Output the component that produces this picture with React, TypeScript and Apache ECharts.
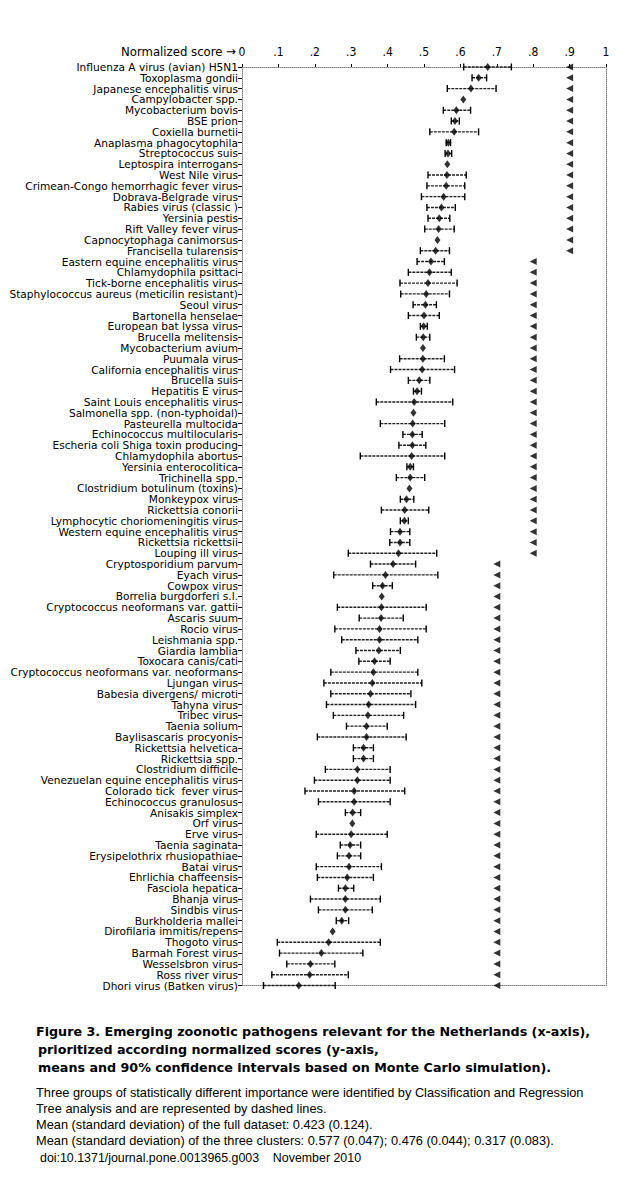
import React, { useEffect, useRef } from "react";
import * as echarts from "echarts";

const categories: string[] = [
  "Influenza A virus (avian) H5N1",
  "Toxoplasma gondii",
  "Japanese encephalitis virus",
  "Campylobacter spp.",
  "Mycobacterium bovis",
  "BSE prion",
  "Coxiella burnetii",
  "Anaplasma phagocytophila",
  "Streptococcus suis",
  "Leptospira interrogans",
  "West Nile virus",
  "Crimean-Congo hemorrhagic fever virus",
  "Dobrava-Belgrade virus",
  "Rabies virus (classic )",
  "Yersinia pestis",
  "Rift Valley fever virus",
  "Capnocytophaga canimorsus",
  "Francisella tularensis",
  "Eastern equine encephalitis virus",
  "Chlamydophila psittaci",
  "Tick-borne encephalitis virus",
  "Staphylococcus aureus (meticilin resistant)",
  "Seoul virus",
  "Bartonella henselae",
  "European bat lyssa virus",
  "Brucella melitensis",
  "Mycobacterium avium",
  "Puumala virus",
  "California encephalitis virus",
  "Brucella suis",
  "Hepatitis E virus",
  "Saint Louis encephalitis virus",
  "Salmonella spp. (non-typhoidal)",
  "Pasteurella multocida",
  "Echinococcus multilocularis",
  "Escheria coli Shiga toxin producing",
  "Chlamydophila abortus",
  "Yersinia enterocolitica",
  "Trichinella spp.",
  "Clostridium botulinum (toxins)",
  "Monkeypox virus",
  "Rickettsia conorii",
  "Lymphocytic choriomeningitis virus",
  "Western equine encephalitis virus",
  "Rickettsia rickettsii",
  "Louping ill virus",
  "Cryptosporidium parvum",
  "Eyach virus",
  "Cowpox virus",
  "Borrelia burgdorferi s.l.",
  "Cryptococcus neoformans var. gattii",
  "Ascaris suum",
  "Rocio virus",
  "Leishmania spp.",
  "Giardia lamblia",
  "Toxocara canis/cati",
  "Cryptococcus neoformans var. neoformans",
  "Ljungan virus",
  "Babesia divergens/ microti",
  "Tahyna virus",
  "Tribec virus",
  "Taenia solium",
  "Baylisascaris procyonis",
  "Rickettsia helvetica",
  "Rickettsia spp.",
  "Clostridium difficile",
  "Venezuelan equine encephalitis virus",
  "Colorado tick  fever virus",
  "Echinococcus granulosus",
  "Anisakis simplex",
  "Orf virus",
  "Erve virus",
  "Taenia saginata",
  "Erysipelothrix rhusiopathiae",
  "Batai virus",
  "Ehrlichia chaffeensis",
  "Fasciola hepatica",
  "Bhanja virus",
  "Sindbis virus",
  "Burkholderia mallei",
  "Dirofilaria immitis/repens",
  "Thogoto virus",
  "Barmah Forest virus",
  "Wesselsbron virus",
  "Ross river virus",
  "Dhori virus (Batken virus)",
];

const means: number[] = [
  0.675, 0.65, 0.629, 0.608, 0.589, 0.585, 0.583, 0.567, 0.566, 0.564,
  0.563, 0.561, 0.554, 0.548, 0.542, 0.54, 0.537, 0.532, 0.519, 0.515,
  0.511, 0.506, 0.504, 0.5, 0.499, 0.498, 0.497, 0.497, 0.495, 0.487,
  0.481, 0.473, 0.471, 0.469, 0.468, 0.468, 0.466, 0.462, 0.462, 0.46,
  0.452, 0.447, 0.446, 0.434, 0.434, 0.43, 0.415, 0.394, 0.386, 0.384,
  0.383, 0.382, 0.378, 0.378, 0.376, 0.364, 0.361, 0.358, 0.353, 0.348,
  0.346, 0.342, 0.342, 0.334, 0.334, 0.317, 0.317, 0.308, 0.308, 0.304,
  0.303, 0.3, 0.297, 0.294, 0.294, 0.289, 0.284, 0.284, 0.284, 0.274,
  0.249, 0.238, 0.218, 0.188, 0.186, 0.156,
];

const lower: number[] = [
  0.609, 0.632, 0.564, 0.608, 0.553, 0.575, 0.516, 0.561, 0.558, 0.564,
  0.511, 0.508, 0.493, 0.508, 0.511, 0.502, 0.537, 0.49, 0.481, 0.457,
  0.434, 0.436, 0.47, 0.457, 0.49, 0.479, 0.497, 0.433, 0.408, 0.457,
  0.471, 0.369, 0.471, 0.38, 0.442, 0.431, 0.325, 0.453, 0.424, 0.46,
  0.435, 0.383, 0.435, 0.408, 0.406, 0.292, 0.353, 0.252, 0.359, 0.384,
  0.262, 0.322, 0.255, 0.274, 0.313, 0.321, 0.244, 0.225, 0.244, 0.232,
  0.251, 0.287, 0.207, 0.306, 0.306, 0.229, 0.199, 0.173, 0.21, 0.284,
  0.303, 0.204, 0.27, 0.262, 0.204, 0.207, 0.265, 0.188, 0.21, 0.259,
  0.249, 0.097, 0.103, 0.123, 0.082, 0.059,
];

const upper: number[] = [
  0.74, 0.672, 0.698, 0.608, 0.628, 0.597, 0.65, 0.573, 0.576, 0.564,
  0.616, 0.612, 0.612, 0.586, 0.571, 0.583, 0.537, 0.57, 0.556, 0.575,
  0.591, 0.57, 0.534, 0.542, 0.509, 0.516, 0.497, 0.556, 0.584, 0.516,
  0.493, 0.579, 0.471, 0.557, 0.495, 0.505, 0.557, 0.471, 0.502, 0.46,
  0.472, 0.513, 0.457, 0.461, 0.461, 0.535, 0.477, 0.538, 0.413, 0.384,
  0.506, 0.443, 0.506, 0.483, 0.435, 0.407, 0.483, 0.494, 0.464, 0.477,
  0.444, 0.399, 0.451, 0.361, 0.361, 0.407, 0.407, 0.447, 0.407, 0.326,
  0.303, 0.399, 0.326, 0.326, 0.383, 0.361, 0.307, 0.38, 0.358, 0.293,
  0.249, 0.38, 0.332, 0.255, 0.292, 0.256,
];

// cluster membership per row (1 = highest importance group): 18 / 28 / 40 rows
const cluster: number[] = [
  1, 1, 1, 1, 1, 1, 1, 1, 1, 1,
  1, 1, 1, 1, 1, 1, 1, 1, 2, 2,
  2, 2, 2, 2, 2, 2, 2, 2, 2, 2,
  2, 2, 2, 2, 2, 2, 2, 2, 2, 2,
  2, 2, 2, 2, 2, 2, 3, 3, 3, 3,
  3, 3, 3, 3, 3, 3, 3, 3, 3, 3,
  3, 3, 3, 3, 3, 3, 3, 3, 3, 3,
  3, 3, 3, 3, 3, 3, 3, 3, 3, 3,
  3, 3, 3, 3, 3, 3,
];
const clusterMarkerX: number[] = [0.9, 0.8, 0.7];

const xTickLabels: Record<string, string> = {
  "0": "0", "0.1": ".1", "0.2": ".2", "0.3": ".3", "0.4": ".4", "0.5": ".5",
  "0.6": ".6", "0.7": ".7", "0.8": ".8", "0.9": ".9", "1": "1",
};

const captionBold: string[] = [
  "Figure 3. Emerging zoonotic pathogens relevant for the Netherlands (x-axis),",
  "prioritized according normalized scores (y-axis,",
  "means and 90% confidence intervals based on Monte Carlo simulation).",
];
const captionText: string[] = [
  "Three groups of statistically different importance were identified by Classification and Regression",
  "Tree analysis and are represented by dashed lines.",
  "Mean (standard deviation) of the full dataset: 0.423 (0.124).",
  "Mean (standard deviation) of the three clusters: 0.577 (0.047); 0.476 (0.044); 0.317 (0.083).",
];
const doiText = "doi:10.1371/journal.pone.0013965.g003    November 2010";

const LABEL_FONT = "'DejaVu Sans', sans-serif";
const NARROW = "'DejaVu Sans Condensed', 'DejaVu Sans', sans-serif";

export default function App() {
  const ref = useRef<HTMLDivElement>(null);
  useEffect(() => {
    if (!ref.current) return;
    const chart = echarts.init(ref.current, null, { renderer: "svg" });
    const errData = categories.map((_, i) => [lower[i], upper[i], i]);
    const meanData = categories.map((_, i) => [means[i], i]);
    const triData = categories.map((_, i) => [clusterMarkerX[cluster[i] - 1], i]);

    const borderLine = {
      show: true,
      onZero: false,
      lineStyle: { color: "#808080", type: "dotted" as const, width: 1 },
    };

    const graphics: any[] = [
      {
        type: "text",
        x: 236,
        y: 51,
        style: {
          text: "Normalized score \u2192",
          fontFamily: NARROW,
          fontSize: 13,
          fill: "#000",
          align: "right",
          verticalAlign: "middle",
        },
      },
    ];
    const boldY = [1031, 1049, 1067];
    captionBold.forEach((t, i) => {
      graphics.push({
        type: "text",
        x: i === 0 ? 36 : 38,
        y: boldY[i],
        style: {
          text: t,
          fontFamily: "'DejaVu Sans', sans-serif",
          fontWeight: "bold",
          fontSize: 12.7,
          fill: "#000",
          verticalAlign: "middle",
        },
      });
    });
    const textY = [1092, 1108, 1124, 1140];
    captionText.forEach((t, i) => {
      graphics.push({
        type: "text",
        x: 36,
        y: textY[i],
        style: {
          text: t,
          fontFamily: "'Liberation Sans', sans-serif",
          fontSize: 12.8,
          fill: "#000",
          verticalAlign: "middle",
        },
      });
    });
    graphics.push({
      type: "text",
      x: 40,
      y: 1158,
      style: {
        text: doiText,
        fontFamily: "'Liberation Sans', sans-serif",
        fontSize: 12.4,
        fill: "#000",
        verticalAlign: "middle",
      },
    });

    chart.setOption({
      animation: false,
      backgroundColor: "#fff",
      grid: { left: 242, right: 34, top: 67, bottom: 214.5, containLabel: false },
      xAxis: [
        {
          type: "value",
          position: "top",
          min: 0,
          max: 1,
          interval: 0.1,
          axisLine: borderLine,
          axisTick: { show: true, length: 3, lineStyle: { color: "#000" } },
          splitLine: { show: false },
          axisLabel: {
            margin: 9,
            fontFamily: NARROW,
            fontSize: 12,
            color: "#000",
            formatter: (v: number) => xTickLabels[String(Math.round(v * 10) / 10)] ?? "",
          },
        },
        {
          type: "value",
          position: "bottom",
          min: 0,
          max: 1,
          axisLine: borderLine,
          axisTick: { show: false },
          axisLabel: { show: false },
          splitLine: { show: false },
        },
      ],
      yAxis: [
        {
          type: "category",
          data: categories,
          inverse: true,
          boundaryGap: false,
          position: "left",
          axisLine: borderLine,
          axisTick: { show: true, length: 4, interval: 0, lineStyle: { color: "#000" } },
          axisLabel: {
            interval: 0,
            margin: 4,
            fontFamily: LABEL_FONT,
            fontSize: 10.6,
            lineHeight: 10.6,
            color: "#000",
          },
          splitLine: { show: false },
        },
        {
          type: "category",
          data: categories,
          inverse: true,
          boundaryGap: false,
          position: "right",
          axisLine: borderLine,
          axisTick: { show: false },
          axisLabel: { show: false },
          splitLine: { show: false },
        },
      ],
      series: [
        {
          type: "custom",
          xAxisIndex: 0,
          yAxisIndex: 0,
          data: errData,
          encode: { x: [0, 1], y: 2 },
          renderItem: (params: any, api: any) => {
            const lo = api.value(0);
            const hi = api.value(1);
            const yi = api.value(2);
            const p1 = api.coord([lo, yi]);
            const p2 = api.coord([hi, yi]);
            if (p2[0] - p1[0] < 2) return { type: "group", children: [] };
            const h = 3.5;
            return {
              type: "group",
              children: [
                {
                  type: "line",
                  shape: { x1: p1[0], y1: p1[1], x2: p2[0], y2: p2[1] },
                  style: { stroke: "#222", lineWidth: 1.4, lineDash: [3, 1] },
                },
                {
                  type: "line",
                  shape: { x1: p1[0], y1: p1[1] - h, x2: p1[0], y2: p1[1] + h },
                  style: { stroke: "#000", lineWidth: 1.4 },
                },
                {
                  type: "line",
                  shape: { x1: p2[0], y1: p2[1] - h, x2: p2[0], y2: p2[1] + h },
                  style: { stroke: "#000", lineWidth: 1.4 },
                },
              ],
            };
          },
          z: 2,
        },
        {
          type: "scatter",
          xAxisIndex: 0,
          yAxisIndex: 0,
          data: meanData,
          symbol: "diamond",
          symbolSize: [6, 8],
          itemStyle: { color: "#000" },
          z: 3,
        },
        {
          type: "scatter",
          xAxisIndex: 0,
          yAxisIndex: 0,
          data: triData,
          symbol: "triangle",
          symbolRotate: 90,
          symbolSize: [7, 7],
          itemStyle: { color: "#000" },
          z: 3,
        },
      ],
      graphic: graphics,
    });
    return () => chart.dispose();
  }, []);
  return (
    <div
      ref={ref}
      style={{ position: "absolute", left: 0, top: 0, width: 640, height: 1200, background: "#fff" }}
    />
  );
}
